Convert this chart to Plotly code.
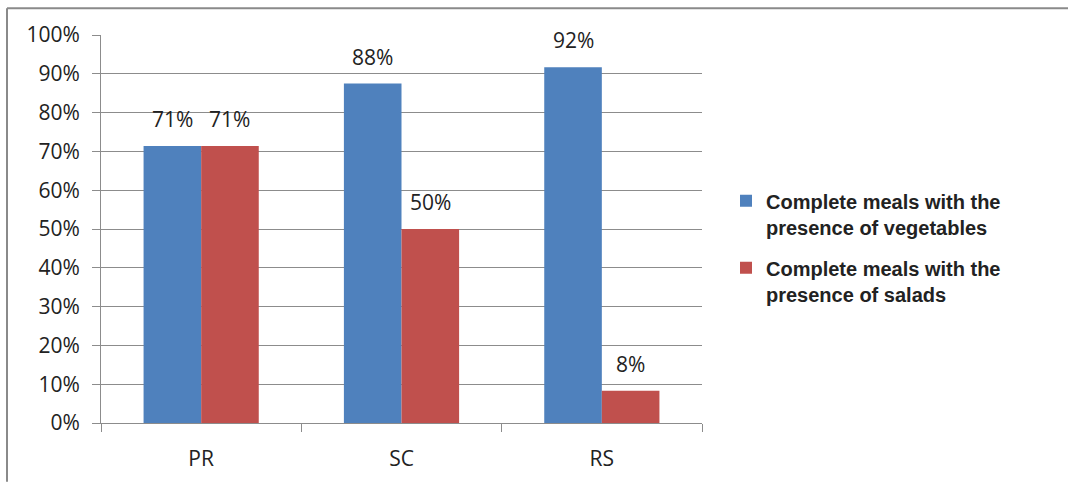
import plotly.graph_objects as go

categories = ["PR", "SC", "RS"]
vegetables = [0.714, 0.875, 0.917]
salads = [0.714, 0.500, 0.083]
series_names = [
    "Complete meals with the<br>presence of vegetables",
    "Complete meals with the<br>presence of salads",
]
y_ticks = [i / 10 for i in range(11)]

BLUE = "#4F81BD"
RED = "#C0504D"
GRID = "#8C8C8C"
TXT = "#222222"
FONT = "Open Sans"

W, H = 1068, 484
L, R, T, B = 101, 366, 35, 59
pw, ph = W - L - R, H - T - B
BARGAP = 0.425


def px_x(p):
    return (p - L) / pw


def px_y(p):
    return (H - B - p) / ph


fig = go.Figure()
fig.add_trace(go.Bar(x=categories, y=vegetables, name=series_names[0],
                     marker=dict(color=BLUE, line=dict(width=0)), legendgroup="a"))
fig.add_trace(go.Bar(x=categories, y=salads, name=series_names[1],
                     marker=dict(color=RED, line=dict(width=0)), legendgroup="b"))

annotations = []
off = (1 - BARGAP) / 4
for i, (v, s) in enumerate(zip(vegetables, salads)):
    for val, sign in ((v, -1), (s, 1)):
        annotations.append(dict(
            x=i + sign * off, y=val, xref="x", yref="y",
            text=f"{round(val * 100)}%", showarrow=False,
            yanchor="bottom", yshift=11,
            font=dict(family=FONT, size=21, color=TXT)))

fig.update_layout(
    width=W, height=H,
    margin=dict(l=L, r=R, t=T, b=B, pad=0),
    paper_bgcolor="white", plot_bgcolor="white",
    barmode="group", bargap=BARGAP, bargroupgap=0,
    font=dict(family=FONT, size=21, color=TXT),
    showlegend=True,
    legend=dict(
        x=px_x(726), y=px_y(182), xanchor="left", yanchor="top",
        valign="top", traceorder="grouped", tracegroupgap=12,
        font=dict(family="Liberation Sans", size=20, color=TXT, weight="bold"),
        bgcolor="rgba(0,0,0,0)", borderwidth=0,
    ),
    annotations=annotations,
    shapes=[
        dict(type="line", xref="paper", yref="paper",
             x0=px_x(7), x1=px_x(1068), y0=px_y(8), y1=px_y(8),
             line=dict(color="#8A8A8A", width=2)),
        dict(type="line", xref="paper", yref="paper",
             x0=px_x(7), x1=px_x(7), y0=px_y(8), y1=px_y(484),
             line=dict(color="#8A8A8A", width=2)),
    ],
)

fig.update_xaxes(
    showline=True, linecolor=GRID, linewidth=1,
    ticks="outside", ticklen=8, tickcolor=GRID, tickson="boundaries",
    ticklabelstandoff=17, showgrid=False,
    tickfont=dict(family=FONT, size=21, color=TXT),
)
fig.update_yaxes(
    range=[0, 1], tickvals=y_ticks, tickformat=".0%",
    showline=True, linecolor=GRID, linewidth=1,
    ticks="outside", ticklen=8, tickcolor=GRID, ticklabelstandoff=8,
    showgrid=True, gridcolor=GRID, gridwidth=1, zeroline=False,
    tickfont=dict(family=FONT, size=21, color=TXT),
)

fig.write_html("out.html")
